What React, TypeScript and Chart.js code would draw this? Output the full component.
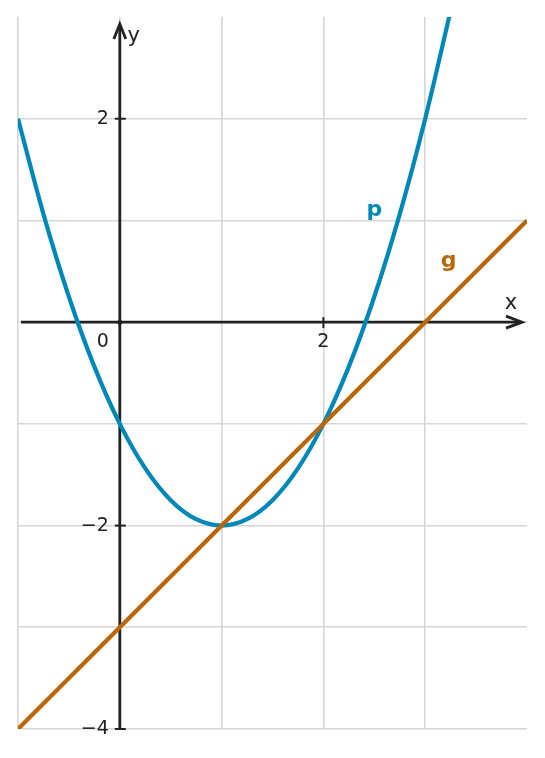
import React, { useEffect, useRef } from "react";
import { Chart, registerables } from "chart.js";

Chart.register(...registerables);

const pX = [-1, -0.75, -0.5, -0.25, 0, 0.25, 0.5, 0.75, 1, 1.25, 1.5, 1.75, 2, 2.25, 2.5, 2.75, 3, 3.25];
const pY = [2, 1.0625, 0.25, -0.4375, -1, -1.4375, -1.75, -1.9375, -2, -1.9375, -1.75, -1.4375, -1, -0.4375, 0.25, 1.0625, 2, 3.0625];
const gX = [-1, 4];
const gY = [-4, 1];
const yTickValues = [2, -2, -4];
const yTickLabels = ["2", "−2", "−4"];
const xTickValues = [2];
const xTickLabels = ["2"];
const curveLabels = ["p", "g"];
const curveLabelPos = [[2.5, 1.1], [3.23, 0.6]];

const BLUE = "#0088ba";
const ORANGE = "#bb6608";
const AXIS = "#222222";
const GRID = "#d6d6d6";
const FONT = "'DejaVu Sans', sans-serif";

const axesPlugin = {
  id: "axesPlugin",
  beforeDatasetsDraw(chart: any) {
    const { ctx, chartArea } = chart;
    const xs = chart.scales.x;
    const ys = chart.scales.y;
    const x0 = xs.getPixelForValue(0);
    const y0 = ys.getPixelForValue(0);
    ctx.save();
    ctx.strokeStyle = AXIS;
    ctx.fillStyle = AXIS;
    ctx.lineWidth = 2.8;
    ctx.lineCap = "butt";
    const xLeft = chartArea.left + 3;
    const xRight = chartArea.right - 5;
    ctx.beginPath();
    ctx.moveTo(xLeft, y0);
    ctx.lineTo(xRight - 1, y0);
    ctx.stroke();
    const yBottom = chartArea.bottom;
    const yTop = chartArea.top + 7;
    ctx.beginPath();
    ctx.moveTo(x0, yBottom);
    ctx.lineTo(x0, yTop + 1);
    ctx.stroke();
    ctx.lineJoin = "miter";
    ctx.beginPath();
    ctx.moveTo(xRight - 16, y0 - 6);
    ctx.lineTo(xRight, y0);
    ctx.lineTo(xRight - 16, y0 + 6);
    ctx.stroke();
    ctx.beginPath();
    ctx.moveTo(x0 - 6, yTop + 15);
    ctx.lineTo(x0, yTop);
    ctx.lineTo(x0 + 6, yTop + 15);
    ctx.stroke();
    ctx.lineWidth = 2;
    yTickValues.forEach((v) => {
      const py = ys.getPixelForValue(v);
      ctx.beginPath();
      ctx.moveTo(x0 - 5, py);
      ctx.lineTo(x0 + 6, py);
      ctx.stroke();
    });
    xTickValues.forEach((v) => {
      const px = xs.getPixelForValue(v);
      ctx.beginPath();
      ctx.moveTo(px, y0 - 5);
      ctx.lineTo(px, y0 + 6);
      ctx.stroke();
    });
    ctx.beginPath();
    ctx.arc(x0, y0, 2.5, 0, Math.PI * 2);
    ctx.fill();
    ctx.font = `19px ${FONT}`;
    ctx.textBaseline = "middle";
    ctx.textAlign = "right";
    yTickValues.forEach((v, i) => {
      ctx.fillText(yTickLabels[i], x0 - 11, ys.getPixelForValue(v));
    });
    ctx.textAlign = "center";
    ctx.textBaseline = "top";
    xTickValues.forEach((v, i) => {
      ctx.fillText(xTickLabels[i], xs.getPixelForValue(v), y0 + 10);
    });
    ctx.fillText("0", x0 - 17, y0 + 10);
    ctx.font = `21px ${FONT}`;
    ctx.textBaseline = "middle";
    ctx.fillText("x", xRight - 11, y0 - 19);
    ctx.fillText("y", x0 + 14, yTop + 13);
    ctx.restore();
  },
  afterDatasetsDraw(chart: any) {
    const { ctx } = chart;
    const xs = chart.scales.x;
    const ys = chart.scales.y;
    ctx.save();
    ctx.font = `bold 22px ${FONT}`;
    ctx.textAlign = "center";
    ctx.textBaseline = "middle";
    const colors = [BLUE, ORANGE];
    curveLabels.forEach((t, i) => {
      ctx.fillStyle = colors[i];
      ctx.fillText(t, xs.getPixelForValue(curveLabelPos[i][0]), ys.getPixelForValue(curveLabelPos[i][1]));
    });
    ctx.restore();
  },
};

export default function App() {
  const ref = useRef<HTMLCanvasElement | null>(null);
  useEffect(() => {
    if (!ref.current) return;
    const chart = new Chart(ref.current, {
      type: "line",
      data: {
        datasets: [
          {
            label: "g",
            data: gX.map((x, i) => ({ x, y: gY[i] })),
            borderColor: ORANGE,
            borderWidth: 4.2,
            pointRadius: 0,
            tension: 0,
          },
          {
            label: "p",
            data: pX.map((x, i) => ({ x, y: pY[i] })),
            borderColor: BLUE,
            borderWidth: 4.2,
            pointRadius: 0,
            cubicInterpolationMode: "monotone",
          },
        ],
      },
      options: {
        animation: false,
        responsive: false,
        layout: { padding: { left: 10, right: 10, top: 9, bottom: 21 } },
        plugins: { legend: { display: false }, tooltip: { enabled: false } },
        scales: {
          x: {
            type: "linear",
            min: -1,
            max: 4,
            ticks: { display: false, stepSize: 1 },
            border: { display: false },
            grid: {
              color: (c: any) => (c.tick && c.tick.value === 4 ? "rgba(0,0,0,0)" : GRID),
              lineWidth: 1.6,
              drawTicks: false,
            },
          },
          y: {
            type: "linear",
            min: -4,
            max: 3,
            ticks: { display: false, stepSize: 1 },
            border: { display: false },
            grid: {
              color: (c: any) => (c.tick && c.tick.value === 3 ? "rgba(0,0,0,0)" : GRID),
              lineWidth: 1.6,
              drawTicks: false,
            },
          },
        },
      },
      plugins: [axesPlugin],
    });
    return () => chart.destroy();
  }, []);
  return (
    <div style={{ width: 529, height: 742 }}>
      <canvas ref={ref} width={529} height={742} style={{ display: "block" }} />
    </div>
  );
}
